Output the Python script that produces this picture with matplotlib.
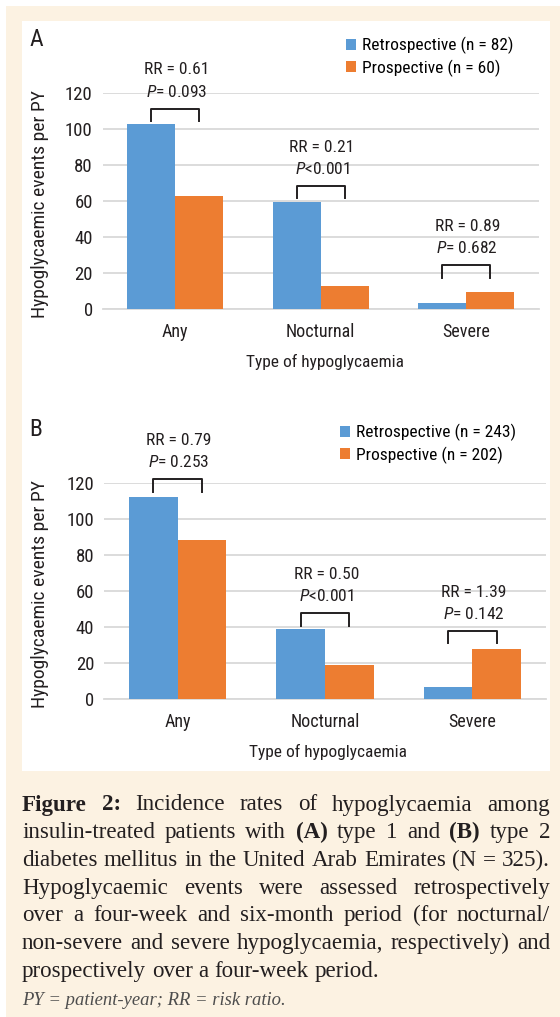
import matplotlib
matplotlib.use("Agg")
import matplotlib.pyplot as plt
from matplotlib import font_manager as fm
from matplotlib.patches import Patch, Rectangle
import numpy as np

categories = ["Any", "Nocturnal", "Severe"]

# panel A: type 1 diabetes
retro_a = [103.0, 59.5, 3.0]
pros_a = [63.0, 12.7, 9.5]
legend_a = ["Retrospective (n = 82)", "Prospective (n = 60)"]
rr_a = ["RR = 0.61", "RR = 0.21", "RR = 0.89"]
p_a = ["= 0.093", "<0.001", "= 0.682"]
bracket_a = [111.5, 68.5, 24.3]

# panel B: type 2 diabetes
retro_b = [112.5, 38.8, 7.0]
pros_b = [88.5, 19.0, 28.2]
legend_b = ["Retrospective (n = 243)", "Prospective (n = 202)"]
rr_b = ["RR = 0.79", "RR = 0.50", "RR = 1.39"]
p_b = ["= 0.253", "<0.001", "= 0.142"]
bracket_b = [122.2, 47.8, 38.1]

yticks = [0, 20, 40, 60, 80, 100, 120]

caption_lines = [
    "**Figure** **2:** Incidence rates of hypoglycaemia among",
    "insulin-treated patients with **(A)** type 1 and **(B)** type 2",
    "diabetes mellitus in the United Arab Emirates (N = 325).",
    "Hypoglycaemic events were assessed retrospectively",
    "over a four-week and six-month period (for nocturnal/",
    "non-severe and severe hypoglycaemia, respectively) and",
    "prospectively over a four-week period.",
]
footnote = "PY = patient-year; RR = risk ratio."

BLUE = "#5B9BD5"
ORANGE = "#ED7D31"
BEIGE = "#FCF2E2"
INK = "#231F20"
GRID = "#D9D9D9"

W, H = 560, 1017
SERIF = ["Liberation Serif", "DejaVu Serif"]

# pick a narrow sans if one is installed
entries = fm.fontManager.ttflist
names = {f.name for f in entries}
stretch = "normal"
if "Liberation Sans Narrow" in names:
    fam = "Liberation Sans Narrow"
elif "Roboto Condensed" in names:
    fam = "Roboto Condensed"
elif any(f.name == "DejaVu Sans" and f.stretch == "condensed" for f in entries):
    fam, stretch = "DejaVu Sans", "condensed"
else:
    fam = "Liberation Sans"

plt.rcParams["font.family"] = [fam, "DejaVu Sans"]
plt.rcParams["font.stretch"] = stretch
plt.rcParams["mathtext.fontset"] = "custom"
plt.rcParams["mathtext.it"] = f"{fam}:italic:stretch={stretch}"
plt.rcParams["mathtext.rm"] = f"{fam}:stretch={stretch}"

fig = plt.figure(figsize=(W / 100, H / 100), dpi=100)
fig.patch.set_facecolor(BEIGE)
# page margin and white chart box, kept behind the axes
fig.add_artist(Rectangle((0, 1 - 6 / H), 1, 6 / H, transform=fig.transFigure,
                         facecolor="white", edgecolor="none", zorder=-5))
fig.add_artist(Rectangle((0, 0), 6 / W, 1, transform=fig.transFigure,
                         facecolor="white", edgecolor="none", zorder=-5))
fig.add_artist(Rectangle((22 / W, 1 - 771 / H), 528 / W, 750 / H,
                         transform=fig.transFigure, facecolor="white",
                         edgecolor="none", zorder=-5))


def px(x, y):
    return x / W, 1 - y / H


def panel(rect, retro, pros, labels, rr, pv, brackets, letter, letter_y,
          leg_xy, ylab_y, xlab_x, xlab_y):
    l, t, r, b = rect
    ax = fig.add_axes([l / W, 1 - b / H, (r - l) / W, (b - t) / H])
    ax.set_facecolor("none")
    x = np.arange(len(categories))
    w = 0.33
    ax.bar(x - w / 2, retro, w, color=BLUE, zorder=3)
    ax.bar(x + w / 2, pros, w, color=ORANGE, zorder=3)
    ax.set_xlim(-0.5, 2.5)
    ax.set_ylim(0, 120)
    ax.set_yticks(yticks)
    ax.set_xticks(x, categories)
    ax.grid(axis="y", color=GRID, lw=1.3, zorder=0)
    for s in ["top", "right", "left"]:
        ax.spines[s].set_visible(False)
    ax.spines["bottom"].set_color(GRID)
    ax.spines["bottom"].set_linewidth(1.3)
    ax.tick_params(length=0, labelsize=13, colors=INK)
    ax.tick_params(axis="y", pad=7, labelsize=13.5)
    ax.tick_params(axis="x", pad=10)

    for i in range(len(categories)):
        top = brackets[i]
        ax.plot([i - w / 2, i - w / 2, i + w / 2, i + w / 2],
                [top - 7, top, top, top - 7], color=INK, lw=1.4,
                clip_on=False, zorder=4)
        ax.text(i + 0.01, top + 21.5, rr[i], ha="center", va="center",
                fontsize=12.5, color=INK)
        ax.text(i + 0.01, top + 9.5, r"$\mathit{P}$" + pv[i], ha="center",
                va="center", fontsize=12.5, color=INK)

    fig.text(*px(36, letter_y), letter, fontsize=17, ha="center", va="center",
             color=INK)
    fig.text(*px(40, ylab_y), "Hypoglycaemic events per PY", rotation=90,
             fontsize=14, ha="center", va="center", color=INK)
    fig.text(*px(xlab_x, xlab_y), "Type of hypoglycaemia", fontsize=12.5,
             ha="center", va="center", color=INK)
    handles = [Patch(facecolor=BLUE), Patch(facecolor=ORANGE)]
    fig.legend(handles, labels, loc="upper left", bbox_to_anchor=px(*leg_xy),
               frameon=False, fontsize=12.5, handlelength=0.6, handleheight=0.6,
               handletextpad=0.3, labelspacing=0.3, borderpad=0, borderaxespad=0)
    return ax


panel((102.5, 93.3, 538.6, 308.7), retro_a, pros_a, legend_a, rr_a, p_a,
      bracket_a, "A", 40, (346, 37), 204, 325, 362)
panel((104, 483.3, 546, 699.3), retro_b, pros_b, legend_b, rr_b, p_b,
      bracket_b, "B", 430, (340, 424), 594, 328, 752)

# justified caption, placed word by word
renderer = fig.canvas.get_renderer()


def width(s, **kw):
    t = fig.text(0, 0, s, **kw)
    wd = t.get_window_extent(renderer).width
    t.remove()
    return wd


left, right = 22, 550
base = 10
plain = [ln.replace("**", "") for ln in caption_lines]
size = min(base * 378 / width(plain[-1], family=SERIF, fontsize=base),
           min(base * (right - left - 6) / width(s, family=SERIF, fontsize=base)
               for s in plain[:-1]))
y0, step = 810.5, 27.7
for k, line in enumerate(caption_lines):
    words = []
    for tok in line.split(" "):
        bold = tok.startswith("**")
        words.append((tok.strip("*"), "bold" if bold else "normal"))
    widths = [width(s, family=SERIF, fontsize=size, weight=wt) for s, wt in words]
    if k == len(caption_lines) - 1:
        gap = (width("a b", family=SERIF, fontsize=size)
               - width("ab", family=SERIF, fontsize=size))
    else:
        gap = (right - left - sum(widths)) / (len(words) - 1)
    xc = left
    for (s, wt), wd in zip(words, widths):
        fig.text(*px(xc, y0 + k * step), s, family=SERIF, fontsize=size,
                 weight=wt, color=INK, va="baseline", ha="left")
        xc += wd + gap

fsize = base * 264 / width(footnote, family=SERIF, fontsize=base, style="italic")
fig.text(*px(22, 1005), footnote, family=SERIF, fontsize=fsize, style="italic",
         color="#4D4D4D", va="baseline", ha="left")

fig.savefig("out.png", dpi=100, facecolor=fig.get_facecolor())
